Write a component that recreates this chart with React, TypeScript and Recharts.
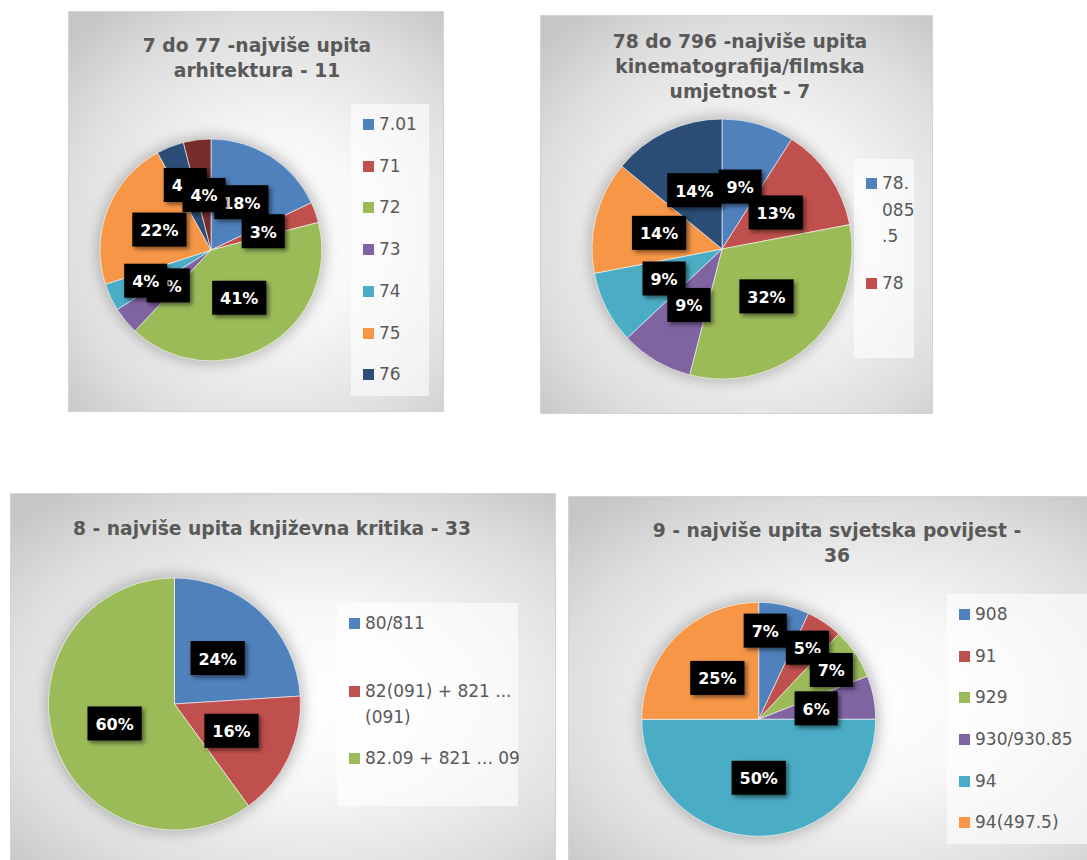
import { PieChart, Pie, Cell } from 'recharts';

// Office palette
const COLORS = ['#4F81BD', '#C0504D', '#9BBB59', '#8064A2', '#4BACC6', '#F79646', '#2C4D75', '#772C2A'];

// 7 do 77
const archTitle = '7 do 77 -najviše upita\narhitektura - 11';
const archCategories = ['7.01', '71', '72', '73', '74', '75', '76', '77'];
const archValues = [18, 3, 41, 4, 4, 22, 4, 4];

// 78 do 796
const filmTitle = '78 do 796 -najviše upita\nkinematografija/filmska\numjetnost - 7';
const filmCategories = ['78.085.5', '78', '791', '792', '793', '794', '796'];
const filmValues = [9, 13, 32, 9, 9, 14, 14];

// 8
const litTitle = '8 - najviše upita književna kritika - 33';
const litCategories = ['80/811', '82(091) + 821 ... (091)', '82.09 + 821 ... 09'];
const litValues = [24, 16, 60];

// 9
const histTitle = '9 - najviše upita svjetska povijest -\n36';
const histCategories = ['908', '91', '929', '930/930.85', '94', '94(497.5)'];
const histValues = [7, 5, 7, 6, 50, 25];

const RAD = Math.PI / 180;
const FONT = '"DejaVu Sans", sans-serif';

type Placement = { radius?: number[]; shift?: number[] };

const makeLabel = (pl: Placement) => (props: any) => {
    const { cx, cy, midAngle, outerRadius, percent, index } = props;
    const k = pl.radius?.[index] ?? 0.5;
    const a = (midAngle + (pl.shift?.[index] ?? 0)) * RAD;
    const x = cx + outerRadius * k * Math.cos(a);
    const y = cy - outerRadius * k * Math.sin(a);
    const text = `${Math.round(percent * 100)}%`;
    const w = 32 + (text.length - 1) * 11.1;
    return (
        <g key={`lbl-${index}`}>
            <rect x={x - w / 2} y={y - 17} width={w} height={34} fill="#000" filter="url(#lblShadow)" />
            <text x={x} y={y + 1} fill="#fff" textAnchor="middle" dominantBaseline="central"
                fontFamily={FONT} fontWeight="bold" fontSize={16}>{text}</text>
        </g>
    );
};

// split a legend name into fixed-size pieces (Excel breaks narrow legends mid-word)
const chunk = (s: string, n?: number) => {
    if (!n) return [s];
    const out: string[] = [];
    for (let i = 0; i < s.length; i += n) out.push(s.slice(i, i + n));
    return out;
};

type CardProps = {
    title: string;
    categories: string[];
    values: number[];
    frame: { left: number; top: number; width: number; height: number };
    pie: { cx: number; cy: number; r: number };
    titlePos: { cx: number; top: number };
    legend: { left: number; top: number; width: number; height: number; count: number; padTop?: number; textWidth?: number; chunk?: number };
    placement?: Placement;
};

const PieCard = ({ title, categories, values, frame, pie, titlePos, legend, placement = {} }: CardProps) => {
    const data = categories.map((name, i) => ({ name, value: values[i] }));
    const shown = categories.slice(0, legend.count);
    const slot = legend.height / legend.count;
    return (
        <div style={{
            position: 'absolute', left: frame.left, top: frame.top, width: frame.width, height: frame.height,
            background: 'radial-gradient(ellipse 75% 70% at 55% 55%, #ffffff 0%, #f7f7f7 35%, #dedede 75%, #c6c6c6 100%)',
            border: '1px solid #d4d4d4', boxSizing: 'border-box', overflow: 'hidden',
        }}>
            <div style={{
                position: 'absolute', left: titlePos.cx - 250, width: 500, top: titlePos.top,
                textAlign: 'center', whiteSpace: 'pre-line', fontFamily: FONT, fontWeight: 'bold',
                fontSize: 18.7, lineHeight: '25px', color: '#595959',
            }}>{title}</div>

            <div style={{ position: 'absolute', left: 0, top: 0 }}>
                <PieChart width={frame.width} height={frame.height} margin={{ top: 0, right: 0, bottom: 0, left: 0 }}>
                    <Pie data={[{ name: 'halo', value: 1 }]} dataKey="value" cx={pie.cx} cy={pie.cy}
                        outerRadius={pie.r + 3} stroke="none" isAnimationActive={false}>
                        <Cell fill="#6f6f6f" fillOpacity={0.45} filter="url(#pieHalo)" />
                    </Pie>
                    <Pie data={data} dataKey="value" nameKey="name" cx={pie.cx} cy={pie.cy} outerRadius={pie.r}
                        startAngle={90} endAngle={-270} stroke="#ffffff" strokeWidth={0.6}
                        labelLine={false} label={makeLabel(placement)} isAnimationActive={false}>
                        {data.map((entry, index) => (
                            <Cell key={`cell-${entry.name}`} fill={COLORS[index % COLORS.length]} />
                        ))}
                    </Pie>
                </PieChart>
            </div>

            <div style={{
                position: 'absolute', left: legend.left, top: legend.top, width: legend.width, height: legend.height,
                background: 'rgba(255,255,255,0.6)', fontFamily: FONT, fontSize: 17, color: '#595959',
            }}>
                {shown.map((name, i) => (
                    <div key={name} style={{
                        position: 'absolute', left: 0, top: i * slot + (legend.padTop ?? 7),
                        display: 'flex', alignItems: 'flex-start', lineHeight: '26.5px',
                    }}>
                        <span style={{ width: 11, height: 11, marginLeft: 12, marginTop: 8, flex: 'none', background: COLORS[i] }} />
                        <span style={{ marginLeft: 5, width: legend.textWidth ?? legend.width - 28, flex: 'none' }}>
                            {chunk(name, legend.chunk).map((part, j) => <div key={j}>{part}</div>)}
                        </span>
                    </div>
                ))}
            </div>
        </div>
    );
};

export default function App() {
    return (
        <div style={{ position: 'absolute', left: 0, top: 0, width: 1087, height: 860, overflow: 'hidden', background: '#fff' }}>
            <svg width={0} height={0} style={{ position: 'absolute' }}>
                <defs>
                    <filter id="lblShadow" x="-30%" y="-30%" width="170%" height="180%">
                        <feDropShadow dx={2.5} dy={2.5} stdDeviation={2} floodColor="#000" floodOpacity={0.5} />
                    </filter>
                    <filter id="pieHalo" x="-30%" y="-30%" width="160%" height="160%">
                        <feGaussianBlur stdDeviation={7} />
                    </filter>
                </defs>
            </svg>

            <PieCard title={archTitle} categories={archCategories} values={archValues}
                frame={{ left: 68, top: 11, width: 376, height: 401 }}
                pie={{ cx: 142, cy: 238, r: 111 }}
                titlePos={{ cx: 188, top: 21 }}
                legend={{ left: 282, top: 92, width: 78, height: 292, count: 7 }}
                placement={{ radius: [0.51, 0.5, 0.5, 0.5, 0.65, 0.5, 0.63, 0.5] }} />

            <PieCard title={filmTitle} categories={filmCategories} values={filmValues}
                frame={{ left: 540, top: 15, width: 393, height: 399 }}
                pie={{ cx: 181, cy: 233, r: 130 }}
                titlePos={{ cx: 199, top: 13 }}
                legend={{ left: 313, top: 143, width: 60, height: 199, count: 2, padTop: 11, chunk: 3 }} />

            <PieCard title={litTitle} categories={litCategories} values={litValues}
                frame={{ left: 10, top: 493, width: 546, height: 372 }}
                pie={{ cx: 163.5, cy: 210, r: 126 }}
                titlePos={{ cx: 261, top: 22 }}
                legend={{ left: 326, top: 109, width: 181, height: 203, count: 3, textWidth: 168 }} />

            <PieCard title={histTitle} categories={histCategories} values={histValues}
                frame={{ left: 568, top: 496, width: 530, height: 372 }}
                pie={{ cx: 189.7, cy: 222.3, r: 117 }}
                titlePos={{ cx: 268, top: 21 }}
                legend={{ left: 378, top: 97, width: 150, height: 250, count: 6 }}
                placement={{ radius: [0.76, 0.74, 0.75, 0.5, 0.5, 0.5], shift: [8.4, 0, 0, 0, 0, 0] }} />
        </div>
    );
}
